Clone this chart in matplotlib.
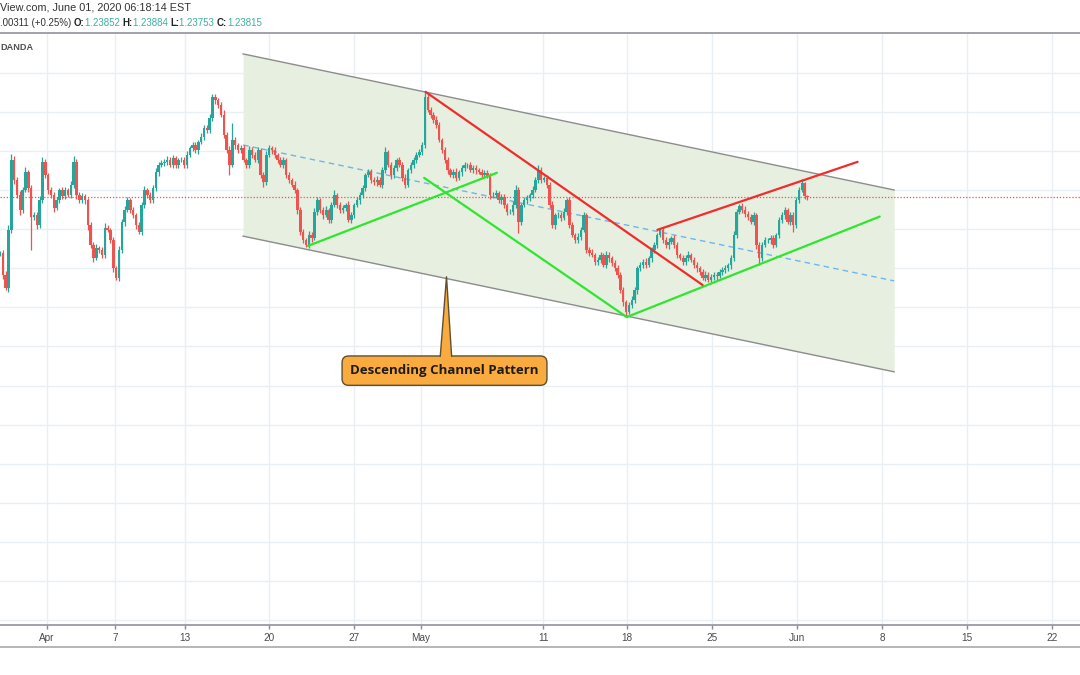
import matplotlib.pyplot as plt
from matplotlib.lines import Line2D
from matplotlib.patches import Polygon
import numpy as np

# GBPUSD 4h closes, Mar 30 - Jun 1 2020
closes = [
    1.2239, 1.2183, 1.2149, 1.2298, 1.2477, 1.2426, 1.2387, 1.2349, 1.2400, 1.2446,
    1.2405, 1.2330, 1.2336, 1.2310, 1.2374, 1.2472, 1.2438, 1.2400, 1.2387, 1.2354,
    1.2374, 1.2400, 1.2385, 1.2400, 1.2387, 1.2413, 1.2472, 1.2387, 1.2374, 1.2385,
    1.2374, 1.2310, 1.2259, 1.2226, 1.2252, 1.2247, 1.2234, 1.2303, 1.2298, 1.2272,
    1.2200, 1.2175, 1.2247, 1.2318, 1.2349, 1.2374, 1.2349, 1.2336, 1.2310, 1.2293,
    1.2362, 1.2400, 1.2387, 1.2374, 1.2405, 1.2446, 1.2464, 1.2469, 1.2472, 1.2477,
    1.2464, 1.2482, 1.2464, 1.2477, 1.2477, 1.2464, 1.2490, 1.2507, 1.2515, 1.2502,
    1.2523, 1.2536, 1.2559, 1.2553, 1.2584, 1.2638, 1.2630, 1.2617, 1.2592, 1.2541,
    1.2502, 1.2464, 1.2528, 1.2515, 1.2502, 1.2507, 1.2477, 1.2464, 1.2502, 1.2490,
    1.2477, 1.2502, 1.2438, 1.2420, 1.2490, 1.2507, 1.2502, 1.2490, 1.2477, 1.2464,
    1.2477, 1.2438, 1.2426, 1.2413, 1.2400, 1.2349, 1.2293, 1.2272, 1.2259, 1.2285,
    1.2277, 1.2344, 1.2374, 1.2349, 1.2336, 1.2349, 1.2323, 1.2362, 1.2387, 1.2362,
    1.2349, 1.2354, 1.2362, 1.2323, 1.2336, 1.2362, 1.2374, 1.2387, 1.2405, 1.2438,
    1.2446, 1.2426, 1.2420, 1.2426, 1.2413, 1.2451, 1.2497, 1.2464, 1.2438, 1.2456,
    1.2477, 1.2464, 1.2431, 1.2413, 1.2451, 1.2464, 1.2477, 1.2490, 1.2497, 1.2515,
    1.2638, 1.2605, 1.2592, 1.2579, 1.2566, 1.2528, 1.2502, 1.2477, 1.2451, 1.2438,
    1.2446, 1.2431, 1.2446, 1.2456, 1.2464, 1.2464, 1.2451, 1.2456, 1.2451, 1.2446,
    1.2438, 1.2444, 1.2436, 1.2387, 1.2387, 1.2392, 1.2374, 1.2382, 1.2362, 1.2344,
    1.2344, 1.2362, 1.2400, 1.2318, 1.2362, 1.2374, 1.2380, 1.2387, 1.2400, 1.2426,
    1.2451, 1.2426, 1.2431, 1.2413, 1.2362, 1.2310, 1.2336, 1.2336, 1.2328, 1.2344,
    1.2374, 1.2310, 1.2285, 1.2272, 1.2280, 1.2298, 1.2336, 1.2247, 1.2239, 1.2234,
    1.2216, 1.2221, 1.2234, 1.2208, 1.2234, 1.2226, 1.2213, 1.2200, 1.2183, 1.2144,
    1.2113, 1.2088, 1.2106, 1.2119, 1.2144, 1.2200, 1.2208, 1.2216, 1.2208, 1.2226,
    1.2247, 1.2259, 1.2285, 1.2298, 1.2272, 1.2259, 1.2267, 1.2277, 1.2259, 1.2234,
    1.2226, 1.2216, 1.2226, 1.2234, 1.2221, 1.2208, 1.2200, 1.2190, 1.2175, 1.2183,
    1.2170, 1.2177, 1.2183, 1.2180, 1.2190, 1.2195, 1.2200, 1.2208, 1.2226, 1.2285,
    1.2344, 1.2359, 1.2349, 1.2339, 1.2331, 1.2318, 1.2336, 1.2259, 1.2226, 1.2259,
    1.2272, 1.2272, 1.2277, 1.2259, 1.2285, 1.2323, 1.2336, 1.2349, 1.2318, 1.2336,
    1.2310, 1.2374, 1.2400, 1.2418, 1.23852, 1.23815,
]
last_open = 1.23852

# wick lengths in pips above the body top / below the body bottom (estimated)
wick_hi = [
    6, 8, 10, 12, 14, 9, 7, 10, 8, 12, 6, 9, 7, 8, 10, 12, 6, 5, 8, 7,
    9, 6, 8, 7, 5, 10, 14, 6, 7, 8, 5, 6, 8, 7, 9, 6, 8, 12, 7, 6,
    8, 5, 9, 7, 10, 8, 6, 7, 5, 9, 8, 10, 6, 7, 8, 9, 7, 8, 6, 9,
    7, 8, 5, 6, 8, 7, 9, 6, 7, 8, 5, 9, 6, 8, 10, 8, 7, 6, 9, 12,
    8, 10, 43, 7, 6, 8, 9, 6, 10, 8, 7, 9, 6, 8, 10, 7, 6, 8, 5, 7,
    8, 6, 7, 5, 9, 6, 8, 7, 6, 9, 7, 10, 8, 6, 7, 9, 6, 8, 14, 6,
    7, 8, 6, 9, 7, 6, 8, 7, 9, 6, 8, 7, 6, 9, 8, 7, 12, 6, 8, 7,
    6, 8, 7, 9, 6, 7, 8, 6, 7, 9, 13, 8, 6, 7, 9, 8, 6, 7, 8, 6,
    7, 9, 6, 8, 7, 6, 8, 7, 9, 6, 8, 7, 6, 8, 7, 9, 6, 8, 7, 6,
    8, 9, 12, 7, 6, 8, 7, 6, 9, 8, 13, 7, 6, 8, 7, 9, 6, 8, 7, 9,
    6, 8, 7, 6, 9, 7, 8, 6, 7, 9, 6, 8, 7, 6, 9, 7, 6, 8, 7, 6,
    7, 6, 8, 9, 7, 6, 8, 7, 9, 6, 8, 7, 6, 5, 8, 7, 9, 6, 8, 7,
    6, 8, 7, 9, 6, 7, 8, 6, 7, 9, 6, 8, 7, 6, 9, 7, 8, 6, 7, 9,
    8, 6, 7, 9, 6, 8, 7, 6, 8, 7, 9, 6, 8, 7, 6, 9, 8, 7, 6, 8,
    7, 9, 8, 10, 3, 3,
]
wick_lo = [
    8, 10, 6, 9, 7, 10, 8, 12, 7, 6, 9, 83, 8, 10, 7, 6, 8, 9, 7, 10,
    6, 8, 7, 9, 6, 8, 7, 10, 6, 8, 9, 12, 7, 10, 6, 8, 9, 7, 6, 8,
    10, 6, 8, 7, 9, 6, 8, 7, 10, 6, 8, 9, 7, 6, 8, 7, 9, 6, 8, 7,
    6, 9, 7, 8, 6, 9, 7, 6, 8, 7, 9, 6, 8, 7, 6, 8, 9, 7, 6, 8,
    7, 26, 6, 9, 7, 8, 6, 9, 7, 8, 6, 9, 8, 12, 7, 6, 9, 8, 7, 6,
    8, 7, 9, 6, 8, 10, 7, 8, 6, 7, 9, 6, 8, 7, 9, 6, 8, 7, 6, 9,
    7, 8, 9, 6, 8, 7, 6, 9, 7, 8, 6, 7, 8, 9, 6, 7, 8, 6, 9, 7,
    8, 6, 9, 7, 6, 8, 7, 9, 6, 8, 7, 6, 9, 8, 7, 6, 8, 7, 9, 6,
    8, 7, 6, 9, 7, 8, 6, 7, 9, 6, 8, 7, 6, 9, 8, 7, 6, 9, 7, 8,
    6, 8, 7, 28, 8, 6, 9, 7, 8, 6, 7, 9, 6, 8, 7, 6, 9, 7, 8, 6,
    9, 7, 6, 8, 7, 9, 6, 8, 7, 6, 9, 8, 7, 6, 8, 9, 7, 6, 8, 7,
    9, 13, 6, 8, 7, 9, 6, 8, 7, 6, 9, 7, 8, 6, 7, 8, 9, 6, 7, 8,
    6, 9, 7, 8, 6, 7, 9, 8, 6, 7, 5, 8, 7, 9, 6, 8, 7, 6, 9, 7,
    8, 6, 9, 7, 8, 6, 7, 9, 18, 8, 6, 7, 9, 8, 6, 7, 8, 9, 6, 7,
    17, 8, 7, 6, 7, 6,
]

# date labels on the time axis, positioned in bar units
tick_labels = ['Apr', '7', '13', '20', '27', 'May', '11', '18', '25', 'Jun', '8', '15', '22']
tick_bars = [16.6, 40.6, 65.3, 95.0, 125.0, 148.6, 191.7, 221.3, 251.3, 281.3, 311.3, 341.3, 371.3]
price_grid = [1.13, 1.14, 1.15, 1.16, 1.17, 1.18, 1.19, 1.20, 1.21, 1.22, 1.23, 1.24, 1.25, 1.26, 1.27]

# drawing tools: (bar, price) end points
channel_x = [85.8, 315.6]
channel_upper = [1.2748, 1.2400]
channel_lower = [1.2282, 1.1935]
green_lines = [
    [(108.7, 1.2257), (175.4, 1.2444)],
    [(149.7, 1.2431), (221.2, 1.2075)],
    [(221.2, 1.2075), (310.5, 1.2332)],
]
red_lines = [
    [(150.2, 1.2651), (248.0, 1.2157)],
    [(232.0, 1.2298), (302.7, 1.2472)],
]
callout_tip = (157.6, 1.2178)
callout_box = (156.9, 1.1938)
callout_base = [155.4, 159.4, 1.1975]
last_price = 1.23815

fig = plt.figure(figsize=(10.8, 6.75), dpi=100)
ax = fig.add_axes([0, 50 / 675, 1, 592 / 675])
ax.set_xlim(0, 381.2)
ax.set_ylim(1.12875, 1.28015)

# grid
for p in price_grid:
    ax.axhline(p, color='#e9eff3', lw=1, zorder=0)
for b in tick_bars:
    ax.axvline(b, color='#e9eff3', lw=1, zorder=0)

# channel
ax.fill_between(channel_x, channel_upper, channel_lower, color='#e6efe0', zorder=1, lw=0)
ax.plot(channel_x, channel_upper, color='#8c8c8c', lw=1, zorder=2)
ax.plot(channel_x, channel_lower, color='#8c8c8c', lw=1, zorder=2)
mid = [(u + l) / 2 for u, l in zip(channel_upper, channel_lower)]
ax.plot(channel_x, mid, color='#6db6ee', lw=1, dashes=(4, 3), zorder=2)

# candles
closes = np.array(closes)
opens = np.r_[closes[0], closes[:-1]]
opens[-1] = last_open
idx = np.arange(len(closes))
body = closes - opens
h = np.where(np.abs(body) < 0.00008, 0.00008, np.abs(body))
bottom = np.minimum(opens, closes)
top = np.maximum(opens, closes)
highs = top + np.array(wick_hi) * 0.0001
lows = bottom - np.array(wick_lo) * 0.0001
up = body >= 0
for mask, col in [(up, '#26a69a'), (~up, '#ef5350')]:
    ax.vlines(idx[mask], lows[mask], highs[mask], color=col, lw=0.9, zorder=3)
    ax.bar(idx[mask], h[mask], bottom=bottom[mask], width=0.85, color=col, lw=0, zorder=3)

# last price line
ax.axhline(last_price, color='#ef5350', lw=0.9, ls=(0, (1, 1.5)), zorder=2)

# trend lines
for (x0, y0), (x1, y1) in green_lines:
    ax.plot([x0, x1], [y0, y1], color='#2ee62e', lw=1.6, zorder=4, solid_capstyle='round')
for (x0, y0), (x1, y1) in red_lines:
    ax.plot([x0, x1], [y0, y1], color='#f22c2c', lw=1.6, zorder=4, solid_capstyle='round')

# callout
ax.text(callout_box[0], callout_box[1], 'Descending Channel Pattern', ha='center', va='center',
        fontsize=9.5, fontweight='bold', family='Open Sans', color='#1e1a14', zorder=6,
        bbox=dict(boxstyle='round,pad=0.62,rounding_size=0.5', fc='#f9ab3f', ec='#5e5030', lw=1))
bx0, bx1, by = callout_base
ax.add_patch(Polygon([(bx0, by - 0.0006), callout_tip, (bx1, by - 0.0006)], closed=True,
                     fc='#f9ab3f', ec='none', zorder=7))
ax.plot([bx0, callout_tip[0], bx1], [by, callout_tip[1], by], color='#5e5030', lw=1, zorder=7)

# axes styling
ax.set_yticks([])
ax.set_xticks(tick_bars)
ax.set_xticklabels(tick_labels)
ax.tick_params(axis='x', length=3, width=1, color='#8a8a8a', labelsize=7.2, labelcolor='#4a4a4a', pad=3)
for s in ['left', 'right']:
    ax.spines[s].set_visible(False)
ax.spines['top'].set_color('#9a9aa0')
ax.spines['top'].set_linewidth(1.3)
ax.spines['bottom'].set_color('#9a9aa0')
ax.spines['bottom'].set_linewidth(1.3)
for lab in ax.get_xticklabels():
    lab.set_family('Liberation Sans')
fig.add_artist(Line2D([0, 1], [1 - 647 / 675, 1 - 647 / 675], color='#a8a8ae', lw=1.2))

# header
fig.text(0, 1 - 8 / 675, 'View.com, June 01, 2020 06:18:14 EST', fontsize=7.8, family='Liberation Sans',
         color='#333333', va='center', ha='left')
parts = [('.00311 (+0.25%) ', '#333333', 'normal'), ('O:', '#222222', 'bold'), ('1.23852 ', '#3fae9f', 'normal'),
         ('H:', '#222222', 'bold'), ('1.23884 ', '#3fae9f', 'normal'), ('L:', '#222222', 'bold'),
         ('1.23753 ', '#3fae9f', 'normal'), ('C:', '#222222', 'bold'), ('1.23815', '#3fae9f', 'normal')]
header_parts = []
for txt, col, wt in parts:
    header_parts.append(fig.text(0, 1 - 23 / 675, txt, fontsize=7.0, family='Liberation Sans', color=col,
                                 fontweight=wt, va='center', ha='left'))
fig.canvas.draw()
x_cur = 0
for t in header_parts:
    t.set_x(x_cur)
    fig.canvas.draw()
    x_cur += t.get_window_extent().width / fig.bbox.width
fig.text(0, 1 - 47 / 675, 'DANDA', fontsize=6.6, family='Liberation Sans', fontweight='bold',
         color='#505050', va='center', ha='left')

fig.savefig('out.png', dpi=100)
